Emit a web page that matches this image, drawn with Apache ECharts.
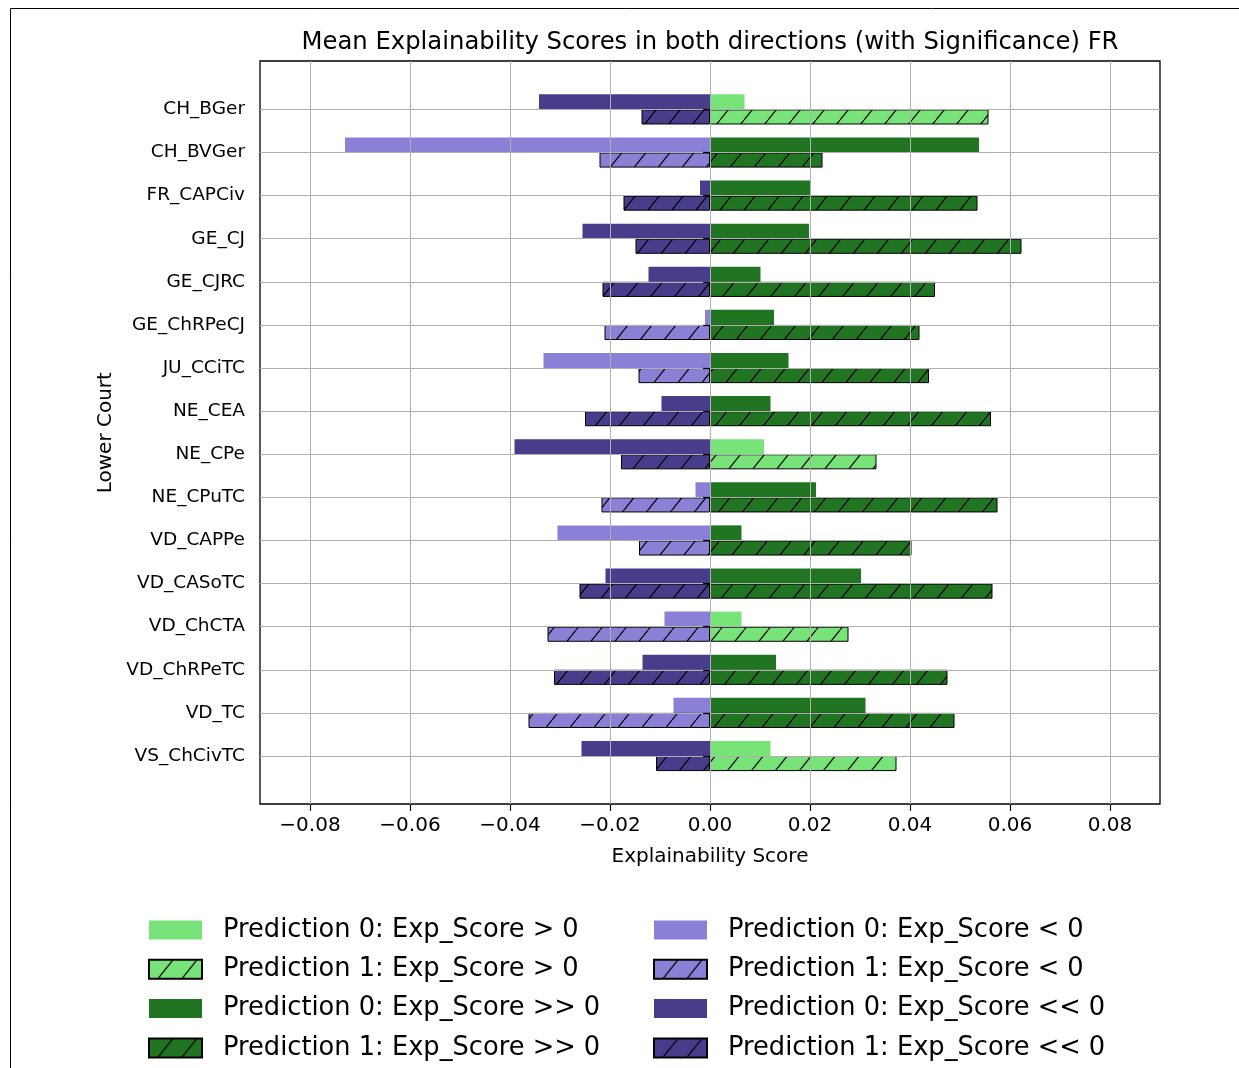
<!DOCTYPE html>
<html>
<head>
<meta charset="utf-8">
<script src="https://cdn.jsdelivr.net/npm/echarts@6/dist/echarts.min.js"></script>
<style>
  html, body { margin: 0; padding: 0; background: #fff; }
  #chart { width: 1239px; height: 1068px; }
</style>
</head>
<body>
<div id="chart"></div>
<script>
// Lower courts, top to bottom
const courts = ['CH_BGer', 'CH_BVGer', 'FR_CAPCiv', 'GE_CJ', 'GE_CJRC', 'GE_ChRPeCJ', 'JU_CCiTC', 'NE_CEA',
  'NE_CPe', 'NE_CPuTC', 'VD_CAPPe', 'VD_CASoTC', 'VD_ChCTA', 'VD_ChRPeTC', 'VD_TC', 'VS_ChCivTC'];

// Mean explainability score of positive / negative contributions per prediction
const pred0Pos = [0.0069, 0.0538, 0.0200, 0.0198, 0.0101, 0.0128, 0.0157, 0.0121, 0.0108, 0.0212, 0.0063, 0.0302, 0.0063, 0.0132, 0.0311, 0.0121];
const pred1Pos = [0.0557, 0.0225, 0.0535, 0.0623, 0.0450, 0.0419, 0.0438, 0.0562, 0.0333, 0.0575, 0.0403, 0.0565, 0.0277, 0.0475, 0.0489, 0.0373];
const pred0Neg = [-0.0342, -0.0730, -0.0020, -0.0255, -0.0123, -0.0010, -0.0333, -0.0097, -0.0391, -0.0029, -0.0305, -0.0209, -0.0091, -0.0135, -0.0073, -0.0257];
const pred1Neg = [-0.0137, -0.0221, -0.0173, -0.0149, -0.0215, -0.0211, -0.0143, -0.0250, -0.0178, -0.0217, -0.0142, -0.0261, -0.0325, -0.0312, -0.0363, -0.0108];

// Significance flags (true: significantly different from 0)
const pred0PosSig = [false, true, true, true, true, true, true, true, false, true, true, true, false, true, true, false];
const pred1PosSig = [false, true, true, true, true, true, true, true, false, true, true, true, false, true, true, false];
const pred0NegSig = [true, false, true, true, true, false, false, true, true, false, false, true, false, true, false, true];
const pred1NegSig = [true, false, true, true, true, false, false, true, true, false, false, true, false, true, false, true];

// Explainability score axis ticks
const scoreTickMin = -0.08;
const scoreTickMax = 0.08;
const scoreTickStep = 0.02;
const scoreLimit = 0.09;

const FONT = '"DejaVu Sans", "Liberation Sans", sans-serif';
const COLORS = {
  posWeak: '#78e378',
  posStrong: '#217421',
  negWeak: '#8a80d6',
  negStrong: '#483d8b'
};
const GRID_LINE = { color: '#b0b0b0', width: 1 };

// Diagonal '/' hatch drawn on top of a base colour
function hatch(fill) {
  const w = 24, h = 30;
  const c = document.createElement('canvas');
  c.width = w; c.height = h;
  const g = c.getContext('2d');
  g.fillStyle = fill;
  g.fillRect(0, 0, w, h);
  g.strokeStyle = '#000';
  g.lineWidth = 1.2;
  for (const dx of [-w, 0, w]) {
    g.beginPath();
    g.moveTo(dx, h);
    g.lineTo(dx + w, 0);
    g.stroke();
  }
  return { image: c, repeat: 'repeat' };
}

function pick(values, flags, want) {
  return values.map((v, i) => (flags[i] === want ? v : '-'));
}

function barSeries(name, stack, data, color, hatched) {
  return {
    name: name,
    type: 'bar',
    xAxisIndex: 2,
    yAxisIndex: 2,
    stack: stack,
    barWidth: '35%',
    barGap: '0%',
    clip: false,
    data: data,
    itemStyle: hatched
      ? { color: hatch(color), borderColor: '#000', borderWidth: 1 }
      : { color: color, borderWidth: 0 },
    emphasis: { disabled: true }
  };
}

const series = [
  barSeries('Prediction 0: Exp_Score > 0', 'p0', pick(pred0Pos, pred0PosSig, false), COLORS.posWeak, false),
  barSeries('Prediction 1: Exp_Score > 0', 'p1', pick(pred1Pos, pred1PosSig, false), COLORS.posWeak, true),
  barSeries('Prediction 0: Exp_Score >> 0', 'p0', pick(pred0Pos, pred0PosSig, true), COLORS.posStrong, false),
  barSeries('Prediction 1: Exp_Score >> 0', 'p1', pick(pred1Pos, pred1PosSig, true), COLORS.posStrong, true),
  barSeries('Prediction 0: Exp_Score < 0', 'p0', pick(pred0Neg, pred0NegSig, false), COLORS.negWeak, false),
  barSeries('Prediction 1: Exp_Score < 0', 'p1', pick(pred1Neg, pred1NegSig, false), COLORS.negWeak, true),
  barSeries('Prediction 0: Exp_Score << 0', 'p0', pick(pred0Neg, pred0NegSig, true), COLORS.negStrong, false),
  barSeries('Prediction 1: Exp_Score << 0', 'p1', pick(pred1Neg, pred1NegSig, true), COLORS.negStrong, true)
];

const legendBase = {
  orient: 'vertical',
  top: 912,
  itemWidth: 53,
  itemHeight: 19,
  itemGap: 13.3,
  icon: 'rect',
  selectedMode: false,
  textStyle: { fontSize: 25.7, lineHeight: 26, color: '#000', fontFamily: FONT, padding: [0, 0, 0, 16] }
};

const chart = echarts.init(document.getElementById('chart'), null, { renderer: 'canvas' });
chart.setOption({
  animation: false,
  backgroundColor: '#fff',
  textStyle: { fontFamily: FONT },
  graphic: [
    {
      type: 'rect', silent: true,
      shape: { x: 10.5, y: 8.5, width: 1300, height: 1100 },
      style: { fill: 'none', stroke: '#000', lineWidth: 1 }
    },
    {
      type: 'text', silent: true, x: 710, y: 42.5,
      style: {
        text: 'Mean Explainability Scores in both directions (with Significance) FR',
        font: '24.3px ' + FONT, fill: '#000', align: 'center', verticalAlign: 'middle'
      }
    }
  ],
  legend: [
    Object.assign({}, legendBase, {
      left: 143,
      data: series.slice(0, 4).map(s => s.name)
    }),
    Object.assign({}, legendBase, {
      left: 648,
      data: series.slice(4, 8).map(s => s.name)
    })
  ],
  grid: [
    // plot frame
    { left: 260, top: 61, width: 900, height: 743, show: true, borderColor: '#000', borderWidth: 1.3,
      backgroundColor: 'transparent', outerBoundsMode: 'none', containLabel: false },
    // score ticks
    { left: 310, top: 61, width: 800, height: 743, show: false, outerBoundsMode: 'none', containLabel: false },
    // bars by court
    { left: 260, top: 109.4, width: 900, height: 646.6, show: false, outerBoundsMode: 'none', containLabel: false }
  ],
  xAxis: [
    { gridIndex: 0, type: 'value', min: -scoreLimit, max: scoreLimit, show: false },
    {
      gridIndex: 1, type: 'value', position: 'bottom', z: 5,
      min: scoreTickMin, max: scoreTickMax, interval: scoreTickStep,
      axisLine: { show: false },
      axisTick: { show: true, length: 7, lineStyle: { color: '#000', width: 1.2 } },
      axisLabel: {
        fontSize: 20, color: '#000', margin: 12, fontFamily: FONT,
        formatter: v => (v < -1e-9 ? '\u2212' : '') + Math.abs(v).toFixed(2)
      },
      splitLine: { show: true, lineStyle: GRID_LINE },
      name: 'Explainability Score', nameLocation: 'middle', nameGap: 43,
      nameTextStyle: { fontSize: 20, color: '#000', fontFamily: FONT }
    },
    { gridIndex: 2, type: 'value', min: -scoreLimit, max: scoreLimit, show: false }
  ],
  yAxis: [
    { gridIndex: 0, type: 'value', min: 0, max: 1, show: false },
    { gridIndex: 1, type: 'value', min: 0, max: 1, show: false },
    {
      gridIndex: 2, type: 'category', data: courts, inverse: true, boundaryGap: false, z: 5,
      axisLine: { show: false },
      axisTick: { show: true, interval: 0, length: 7, lineStyle: { color: '#000', width: 1.2 } },
      axisLabel: { interval: 0, fontSize: 18.5, color: '#000', margin: 15, fontFamily: FONT },
      splitLine: { show: true, interval: 0, lineStyle: GRID_LINE },
      name: 'Lower Court', nameLocation: 'middle', nameRotate: 90, nameGap: 138,
      nameTextStyle: { fontSize: 20, color: '#000', fontFamily: FONT }
    }
  ],
  series: series
});
</script>
</body>
</html>
